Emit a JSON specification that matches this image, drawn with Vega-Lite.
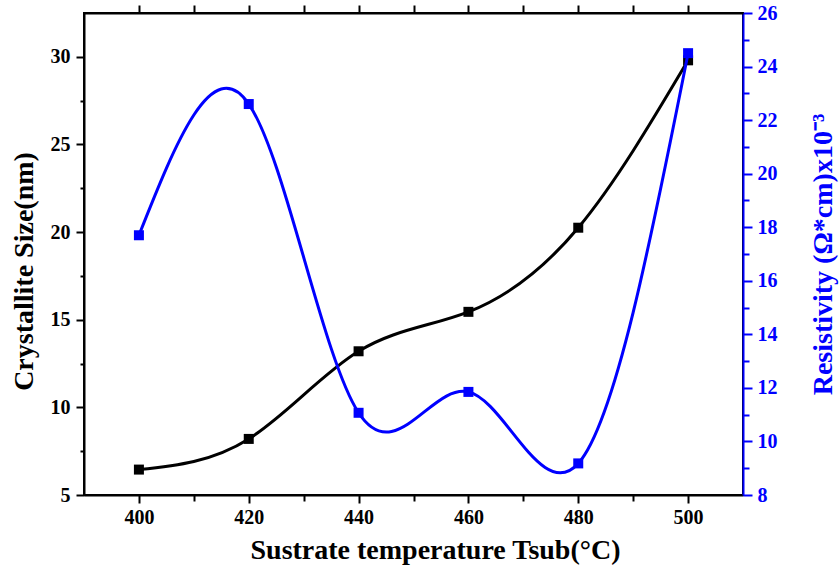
{
  "$schema": "https://vega.github.io/schema/vega-lite/v6.json",
  "width": 659,
  "height": 482,
  "autosize": {"type": "none"},
  "padding": {"left": 84, "top": 13, "right": 97, "bottom": 83},
  "background": "white",
  "config": {
    "view": {"stroke": "black", "strokeWidth": 2},
    "axis": {
      "labelFont": "Liberation Serif",
      "titleFont": "Liberation Serif",
      "labelFontWeight": "bold",
      "titleFontWeight": "bold",
      "labelFontSize": 20,
      "titleFontSize": 28,
      "grid": false,
      "domainWidth": 2,
      "tickWidth": 2,
      "labelFlush": false,
      "labelOverlap": false
    }
  },
  "data": {
    "values": [
      {"T": 400, "size": 6.45, "res": 17.7},
      {"T": 420, "size": 8.2, "res": 22.6},
      {"T": 440, "size": 13.2, "res": 11.07},
      {"T": 460, "size": 15.45, "res": 11.85},
      {"T": 480, "size": 20.25, "res": 9.18},
      {"T": 500, "size": 29.8, "res": 24.5}
    ]
  },
  "layer": [
    {
      "encoding": {
        "x": {
          "field": "T",
          "type": "quantitative",
          "scale": {"domain": [390, 510], "nice": false, "zero": false},
          "axis": {
            "orient": "bottom",
            "title": "Sustrate temperature Tsub(°C)",
            "titleX": 351,
            "titlePadding": 9,
            "values": [400, 410, 420, 430, 440, 450, 460, 470, 480, 490, 500],
            "labelExpr": "datum.value % 20 === 0 ? datum.label : ''",
            "tickSize": {"condition": {"test": "datum.value % 20 === 0", "value": 8}, "value": 6},
            "labelPadding": 4,
            "domainColor": "black",
            "tickColor": "black",
            "labelColor": "black",
            "titleColor": "black"
          }
        },
        "y": {
          "field": "size",
          "type": "quantitative",
          "scale": {"domain": [5, 32.5], "nice": false, "zero": false},
          "axis": {
            "orient": "left",
            "title": "Crystallite Size(nm)",
            "titleY": 258,
            "values": [5, 7.5, 10, 12.5, 15, 17.5, 20, 22.5, 25, 27.5, 30],
            "labelExpr": "datum.value % 5 === 0 ? datum.label : ''",
            "tickSize": {"condition": {"test": "datum.value % 5 === 0", "value": 8}, "value": 4},
            "labelPadding": 6,
            "titlePadding": 12,
            "domainColor": "black",
            "tickColor": "black",
            "labelColor": "black",
            "titleColor": "black"
          }
        }
      },
      "layer": [
        {
          "mark": {"type": "line", "interpolate": "natural", "color": "black", "strokeWidth": 3}
        },
        {
          "mark": {"type": "point", "shape": "square", "filled": true, "color": "black", "size": 100, "opacity": 1}
        }
      ]
    },
    {
      "encoding": {
        "x": {
          "field": "T",
          "type": "quantitative",
          "scale": {"domain": [390, 510], "nice": false, "zero": false},
          "axis": {
            "orient": "top",
            "title": null,
            "labels": true,
            "labelExpr": "''",
            "domain": true,
            "domainColor": "black",
            "values": [400, 410, 420, 430, 440, 450, 460, 470, 480, 490, 500],
            "tickSize": 8,
            "tickColor": "black",
            "zindex": 2
          }
        },
        "y": {
          "field": "res",
          "type": "quantitative",
          "scale": {"domain": [8, 26], "nice": false, "zero": false},
          "axis": {
            "orient": "right",
            "title": "Resistivity (Ω*cm)x10⁻³",
            "titleAngle": 270,
            "values": [8, 9, 10, 11, 12, 13, 14, 15, 16, 17, 18, 19, 20, 21, 22, 23, 24, 25, 26],
            "labelExpr": "datum.value % 2 === 0 ? datum.label : ''",
            "tickSize": {"condition": {"test": "datum.value % 2 === 0", "value": 9}, "value": 6},
            "labelPadding": 5,
            "titlePadding": 60,
            "domainColor": "#0000ff",
            "tickColor": "#0000ff",
            "labelColor": "#0000ff",
            "titleColor": "#0000ff"
          }
        }
      },
      "layer": [
        {
          "mark": {"type": "line", "interpolate": "natural", "color": "#0000ff", "strokeWidth": 3}
        },
        {
          "mark": {"type": "point", "shape": "square", "filled": true, "color": "#0000ff", "size": 100, "opacity": 1}
        }
      ]
    }
  ],
  "resolve": {"scale": {"x": "independent", "y": "independent"}}
}
